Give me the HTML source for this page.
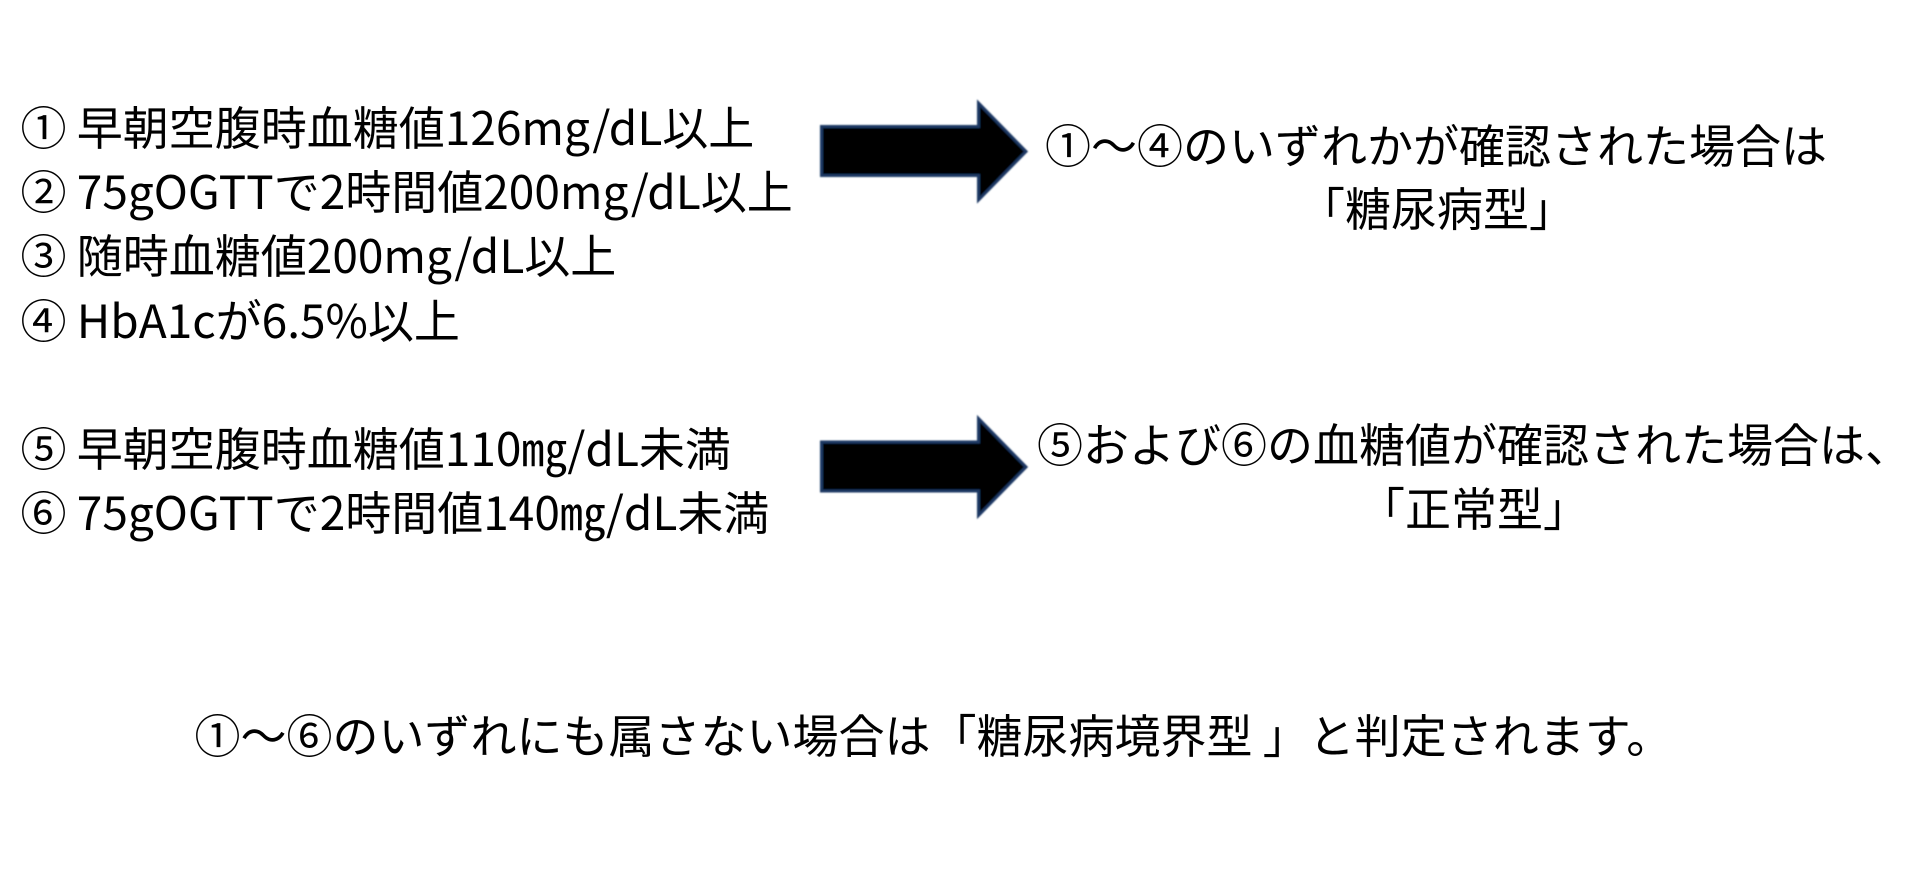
<!DOCTYPE html>
<html lang="ja">
<head>
<meta charset="utf-8">
<style>
html,body{margin:0;padding:0;background:#fff;width:1907px;height:871px;overflow:hidden}
body{position:relative;font-family:"Liberation Sans","Noto Sans CJK JP",sans-serif}
.t{position:absolute;font-family:"Noto Sans CJK JP",sans-serif;font-size:46px;line-height:64px;height:64px;white-space:nowrap;color:#000;filter:blur(.35px)}
.c{transform:translateX(-50%)}
svg{position:absolute;left:0;top:0}
</style>
</head>
<body>
<svg width="1907" height="871">
<defs><filter id="b" x="-5%" y="-5%" width="110%" height="110%"><feGaussianBlur stdDeviation=".7"/></filter></defs>
<g fill="#000" stroke="#1f3864" stroke-width="3" filter="url(#b)">
<path d="M821.5 126.5H978.5V103L1026 151.5L978.5 200V175.5H821.5Z"/>
<path d="M821.5 442H978.5V418.5L1026 467L978.5 515.5V491H821.5Z"/>
</g>
</svg>
<div class="t" style="left:20.5px;top:94px">① 早朝空腹時血糖値126mg/dL以上</div>
<div class="t" style="left:20.5px;top:158px">② 75gOGTTで2時間値200mg/dL以上</div>
<div class="t" style="left:20.5px;top:222px">③ 随時血糖値200mg/dL以上</div>
<div class="t" style="left:20.5px;top:287px">④ HbA1cが6.5%以上</div>
<div class="t" style="left:20.5px;top:415px">⑤ 早朝空腹時血糖値110㎎/dL未満</div>
<div class="t" style="left:20.5px;top:479px">⑥ 75gOGTTで2時間値140㎎/dL未満</div>
<div class="t c" style="left:1436px;top:112px">①～④のいずれかが確認された場合は</div>
<div class="t c" style="left:1437px;top:175px">「糖尿病型」</div>
<div class="t" style="left:1037px;top:411px">⑤および⑥の血糖値が確認された場合は、</div>
<div class="t c" style="left:1474px;top:475px">「正常型」</div>
<div class="t" style="left:194.5px;top:702px">①～⑥のいずれにも属さない場合は「糖尿病境界型 」と判定されます。</div>
</body>
</html>
